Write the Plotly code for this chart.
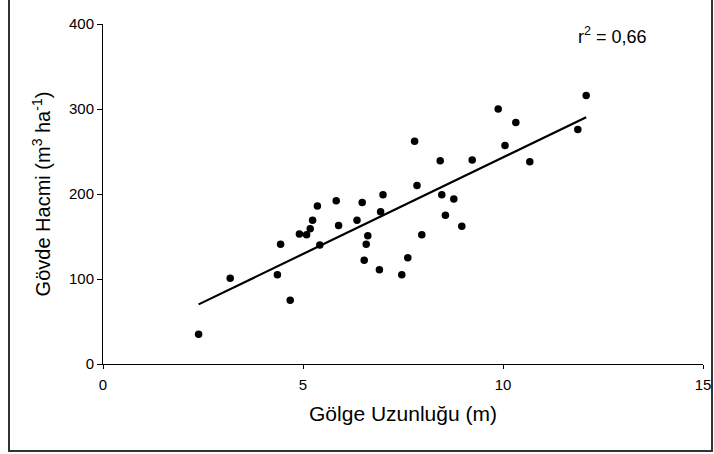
import numpy as np
import plotly.graph_objects as go

# Shadow length (m)
shadow_length = [2.39, 3.18, 4.36, 4.68, 4.44, 4.91, 5.09, 5.18, 5.24, 5.36,
                 5.42, 5.83, 5.89, 6.35, 6.48, 6.53, 6.62, 6.58, 6.91, 6.94,
                 7.00, 7.47, 7.62, 7.79, 7.85, 7.97, 8.43, 8.47, 8.56, 8.77,
                 8.97, 9.23, 9.88, 10.05, 10.32, 10.67, 11.87, 12.08]
# Stem volume (m3/ha)
stem_volume = [35, 101, 105, 75, 141, 153, 152, 159, 169, 186,
               140, 192, 163, 169, 190, 122, 151, 141, 111, 179,
               199, 105, 125, 262, 210, 152, 239, 199, 175, 194,
               162, 240, 300, 257, 284, 238, 276, 316]

x_ticks = [0, 5, 10, 15]
y_ticks = [0, 100, 200, 300, 400]
r2_label = "r<sup>2</sup> = 0,66"

xs = np.array(shadow_length)
ys = np.array(stem_volume)
slope, intercept = np.polyfit(xs, ys, 1)
line_x = np.array([xs.min(), xs.max()])
line_y = slope * line_x + intercept

FONT = "Liberation Sans, Arial, sans-serif"

fig = go.Figure()
fig.add_trace(go.Scatter(x=line_x, y=line_y, mode="lines",
                         line=dict(color="black", width=2.2),
                         hoverinfo="skip", showlegend=False))
fig.add_trace(go.Scatter(x=xs, y=ys, mode="markers",
                         marker=dict(color="black", size=7.5),
                         showlegend=False))

W, H = 714, 454
L, R, T, B = 103, 11, 24, 90
pw, ph = W - L - R, H - T - B

def px_x(p):
    return (p - L) / pw

def px_y(p):
    return (H - B - p) / ph

fig.add_shape(type="rect", xref="paper", yref="paper",
              x0=px_x(9), x1=px_x(712), y0=px_y(451), y1=px_y(-2),
              line=dict(color="#333333", width=2), fillcolor="rgba(0,0,0,0)",
              layer="below")

fig.add_annotation(text=r2_label, xref="paper", yref="paper",
                   x=px_x(576), y=px_y(36), xanchor="left", yanchor="middle",
                   showarrow=False, font=dict(size=18, color="black", family=FONT))

fig.update_layout(
    width=W, height=H,
    margin=dict(l=L, r=R, t=T, b=B),
    paper_bgcolor="white", plot_bgcolor="white",
    font=dict(family=FONT, color="black", size=12),
    xaxis=dict(range=[0, 15], tickvals=x_ticks, showgrid=False, zeroline=False,
               automargin=False,
               showline=True, linecolor="black", linewidth=1,
               ticks="outside", ticklen=4, tickcolor="black",
               ticklabelstandoff=3,
               tickfont=dict(size=15, family=FONT),
               title=dict(text="Gölge Uzunluğu (m)", font=dict(size=21, family=FONT),
                          standoff=14)),
    yaxis=dict(range=[0, 400], tickvals=y_ticks, showgrid=False, zeroline=False,
               automargin=False,
               showline=True, linecolor="black", linewidth=1,
               ticks="outside", ticklen=5, tickcolor="black",
               tickfont=dict(size=15, family=FONT),
               title=dict(text="Gövde Hacmi (m<sup>3</sup> ha<sup>-1</sup>)",
                          font=dict(size=20, family=FONT), standoff=12)),
)

fig.write_html("out.html", config={"displayModeBar": False},
               post_script="document.body.style.margin='0';")
